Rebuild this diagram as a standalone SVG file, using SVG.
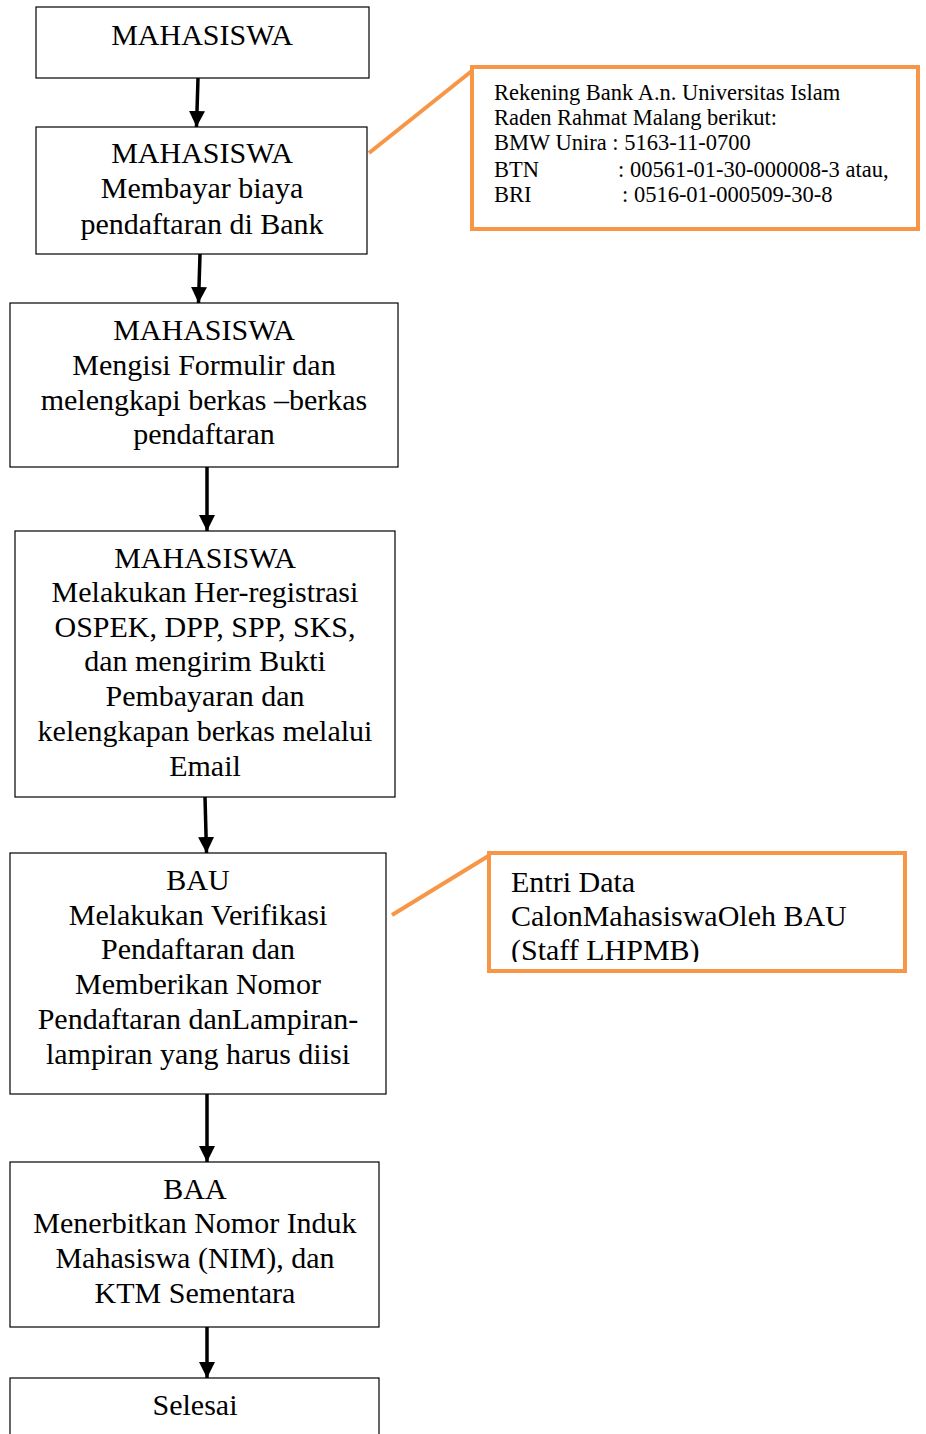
<svg xmlns="http://www.w3.org/2000/svg" width="926" height="1434" viewBox="0 0 926 1434">
<style>
.box{fill:#fff;stroke:#000;stroke-width:1.2}
.obox{fill:#fff;stroke:#F79646;stroke-width:4}
.t{font-family:"Liberation Serif","Times New Roman",serif;font-size:30px;fill:#000;text-anchor:middle}
.s{font-family:"Liberation Serif","Times New Roman",serif;font-size:22.5px;fill:#000}
.o{font-family:"Liberation Serif","Times New Roman",serif;font-size:30px;fill:#000}
.c{stroke:#000;stroke-width:3.5;fill:none;marker-end:url(#ah)}
.oc{stroke:#F79646;stroke-width:4;fill:none}
</style>
<defs>
<marker id="ah" markerUnits="userSpaceOnUse" markerWidth="16" markerHeight="16" viewBox="0 0 16 16" refX="16" refY="8" orient="auto">
<path d="M0,0 L16,8 L0,16 z" fill="#000"/>
</marker>
<clipPath id="clip2"><rect x="491" y="855" width="412" height="107"/></clipPath>
</defs>
<rect width="926" height="1434" fill="#fff"/>
<g id="connectors">
<line class="c" x1="198" y1="78" x2="196.5" y2="127"/>
<line class="c" x1="200" y1="254" x2="198.5" y2="303"/>
<line class="c" x1="207" y1="467" x2="207" y2="531"/>
<line class="c" x1="205" y1="797" x2="206.5" y2="853"/>
<line class="c" x1="207" y1="1094" x2="207" y2="1162"/>
<line class="c" x1="207" y1="1327" x2="207" y2="1378"/>
<line class="oc" x1="369" y1="153" x2="473" y2="70"/>
<line class="oc" x1="392" y1="915" x2="490" y2="855"/>
</g>
<g id="n1">
<rect class="box" x="36" y="7" width="333" height="71"/>
<text class="t" x="202" y="45">MAHASISWA</text>
</g>
<g id="n2">
<rect class="box" x="36" y="127" width="331" height="127"/>
<text class="t" x="202" y="163">MAHASISWA</text>
<text class="t" x="202" y="198">Membayar biaya</text>
<text class="t" x="202" y="234">pendaftaran di Bank</text>
</g>
<g id="n3">
<rect class="box" x="10" y="303" width="388" height="164"/>
<text class="t" x="204" y="340">MAHASISWA</text>
<text class="t" x="204" y="375">Mengisi Formulir dan</text>
<text class="t" x="204" y="410">melengkapi berkas –berkas</text>
<text class="t" x="204" y="444">pendaftaran</text>
</g>
<g id="n4">
<rect class="box" x="15" y="531" width="380" height="266"/>
<text class="t" x="205" y="568">MAHASISWA</text>
<text class="t" x="205" y="602">Melakukan Her-registrasi</text>
<text class="t" x="205" y="637">OSPEK, DPP, SPP, SKS,</text>
<text class="t" x="205" y="671">dan mengirim Bukti</text>
<text class="t" x="205" y="706">Pembayaran dan</text>
<text class="t" x="205" y="741">kelengkapan berkas melalui</text>
<text class="t" x="205" y="776">Email</text>
</g>
<g id="n5">
<rect class="box" x="10" y="853" width="376" height="241"/>
<text class="t" x="198" y="890">BAU</text>
<text class="t" x="198" y="925">Melakukan Verifikasi</text>
<text class="t" x="198" y="959">Pendaftaran dan</text>
<text class="t" x="198" y="994">Memberikan Nomor</text>
<text class="t" x="198" y="1029">Pendaftaran danLampiran-</text>
<text class="t" x="198" y="1064">lampiran yang harus diisi</text>
</g>
<g id="n6">
<rect class="box" x="10" y="1162" width="369" height="165"/>
<text class="t" x="195" y="1199">BAA</text>
<text class="t" x="195" y="1233">Menerbitkan Nomor Induk</text>
<text class="t" x="195" y="1268">Mahasiswa (NIM), dan</text>
<text class="t" x="195" y="1303">KTM Sementara</text>
</g>
<g id="n7">
<rect class="box" x="10" y="1378" width="369" height="70"/>
<text class="t" x="195" y="1415">Selesai</text>
</g>
<g id="note1">
<rect class="obox" x="472" y="67" width="446" height="162"/>
<text class="s" x="494" y="100">Rekening Bank A.n. Universitas Islam</text>
<text class="s" x="494" y="125">Raden Rahmat Malang berikut:</text>
<text class="s" x="494" y="150">BMW Unira : 5163-11-0700</text>
<text class="s" x="494" y="177">BTN</text>
<text class="s" x="618" y="177">: 00561-01-30-000008-3 atau,</text>
<text class="s" x="494" y="202">BRI</text>
<text class="s" x="622" y="202">: 0516-01-000509-30-8</text>
</g>
<g id="note2">
<rect class="obox" x="489" y="853" width="416" height="118"/>
<g clip-path="url(#clip2)">
<text class="o" x="511" y="892">Entri Data</text>
<text class="o" x="511" y="926">CalonMahasiswaOleh BAU</text>
<text class="o" x="511" y="960">(Staff LHPMB)</text>
</g>
</g>
</svg>
